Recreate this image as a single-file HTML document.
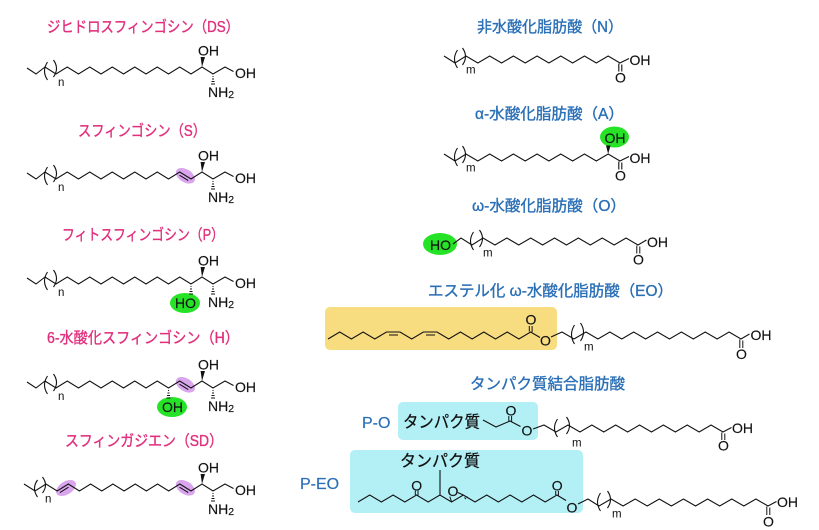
<!DOCTYPE html>
<html><head><meta charset="utf-8">
<style>
html,body{margin:0;padding:0;background:#fff;}
svg{display:block;}
.t{font-family:"Liberation Sans","Noto Sans CJK JP",sans-serif;font-size:15.5px;stroke-width:0.35px;}
.pk{fill:#e0307d;stroke:#e0307d;}
.bl{fill:#2a6fb6;stroke:#2a6fb6;}
.a{font-family:"Liberation Sans",sans-serif;font-size:14px;fill:#111;stroke:#111;stroke-width:0.15px;}
.s{font-family:"Liberation Sans",sans-serif;font-size:11.5px;fill:#111;}
.lb{font-family:"Liberation Sans",sans-serif;font-size:16px;fill:#2a6fb6;stroke:#2a6fb6;stroke-width:0.2px;}
.jp{font-family:"Liberation Sans","Noto Sans CJK JP",sans-serif;font-size:16.5px;fill:#111;stroke:#111;stroke-width:0.25px;}
</style></head><body>
<svg width="819" height="530" viewBox="0 0 819 530" xmlns="http://www.w3.org/2000/svg">
<defs>
  <path id="sch" fill="none" stroke="#111" stroke-width="1.1" d="M27 68L36 74L45 67L56 74l11.25-7 11.25 7 11.25-7 11.25 7 11.25-7 11.25 7 11.25-7 11.25 7 11.25-7 11.25 7 11.25-7 11.25 7L202 67L213 74L225 67L233.5 71.5"/>
  <g id="br">
    <path fill="none" stroke="#111" stroke-width="1.1" d="M47.5 62Q41.5 71 47.5 80M53.5 60Q59.5 68.5 53.5 77"/>
    <text class="s" x="58" y="86">n</text>
  </g>
  <g id="hd">
    <polygon points="202,67 200.6,57 205,57" fill="#111"/>
    <path fill="none" stroke="#111" stroke-width="1" d="M212.5 76.5h1M212 79h2M211.5 81.5h3M211 84h4"/>
    <text class="a" x="198" y="55.5">OH</text>
    <text class="a" x="235" y="78">OH</text>
    <text class="a" x="208" y="97">NH<tspan font-size="10.5" dy="1">2</tspan></text>
  </g>
  <g id="fa">
    <path fill="none" stroke="#111" stroke-width="1.1" d="M444 56L455 63L466 56l11.846 7 11.846-7 11.846 7 11.846-7 11.846 7 11.846-7 11.846 7 11.846-7 11.846 7 11.846-7 11.846 7 11.846-7 11.846 7L629 58.5"/>
    <path fill="none" stroke="#111" stroke-width="1.1" d="M457.5 50Q451.5 59 457.5 68M462.5 48Q468.5 56.5 462.5 65M618.8 63.5V71.5M621.8 64.5V71.5"/>
    <text class="s" x="466" y="73.5">m</text>
    <text class="a" x="615" y="82.5">O</text>
    <text class="a" x="629.5" y="65">OH</text>
  </g>
</defs>

<!-- Left column titles -->
<text class="t pk" x="47" y="32" textLength="192" lengthAdjust="spacingAndGlyphs">ジヒドロスフィンゴシン（DS）</text>
<text class="t pk" x="78" y="136" textLength="128" lengthAdjust="spacingAndGlyphs">スフィンゴシン（S）</text>
<text class="t pk" x="62" y="240" textLength="162" lengthAdjust="spacingAndGlyphs">フィトスフィンゴシン（P）</text>
<text class="t pk" x="47" y="343" textLength="192" lengthAdjust="spacingAndGlyphs">6-水酸化スフィンゴシン（H）</text>
<text class="t pk" x="65" y="446" textLength="158" lengthAdjust="spacingAndGlyphs">スフィンガジエン（SD）</text>

<!-- DS -->
<use href="#sch"/><use href="#br"/><use href="#hd"/>

<!-- S -->
<g transform="translate(0,105)">
  <ellipse cx="185.4" cy="70.8" rx="10.5" ry="6.5" fill="#d9a6ee" transform="rotate(32 185.4 70.8)"/>
  <use href="#sch"/><use href="#br"/><use href="#hd"/>
  <path fill="none" stroke="#111" stroke-width="1" d="M179.5 70.2L188.25 75.6"/>
</g>

<!-- P -->
<g transform="translate(0,210)">
  <ellipse cx="185" cy="93" rx="15" ry="10" fill="#27e327"/>
  <use href="#sch"/><use href="#br"/><use href="#hd"/>
  <path fill="none" stroke="#111" stroke-width="1" d="M190.5 76.5h1M190 79h2M189.5 81.5h3M189 84h4"/>
  <text class="a" x="175" y="98">HO</text>
</g>

<!-- H -->
<g transform="translate(0,314)">
  <ellipse cx="172" cy="93" rx="15" ry="10" fill="#27e327"/>
  <ellipse cx="185.4" cy="70.8" rx="10.5" ry="6.5" fill="#d9a6ee" transform="rotate(32 185.4 70.8)"/>
  <use href="#sch"/><use href="#br"/><use href="#hd"/>
  <path fill="none" stroke="#111" stroke-width="1" d="M179.5 70.2L188.25 75.6M168 76.5h1M167.5 79h2M167 81.5h3M166.5 84h4"/>
  <text class="a" x="162" y="98">OH</text>
</g>

<!-- SD -->
<g transform="translate(0,417)">
  <ellipse cx="66" cy="71" rx="11" ry="6.5" fill="#d9a6ee" transform="rotate(-32 66 71)"/>
  <ellipse cx="185.4" cy="70.8" rx="10.5" ry="6.5" fill="#d9a6ee" transform="rotate(32 185.4 70.8)"/>
  <path fill="none" stroke="#111" stroke-width="1.1" d="M24 67L35 74L46 67l11.154 7 11.154-7 11.154 7 11.154-7 11.154 7 11.154-7 11.154 7 11.154-7 11.154 7 11.154-7 11.154 7 11.154-7 11.154 7L202 67L213 74L225 67L233.5 71.5"/>
  <path fill="none" stroke="#111" stroke-width="1.1" d="M37.5 63Q31.5 71.5 37.5 80M42.5 60Q48.5 68 42.5 76"/>
  <path fill="none" stroke="#111" stroke-width="1" d="M59.9 75.6L68.5 70.2M179.5 70.2L188.25 75.6"/>
  <text class="s" x="45" y="85.5">n</text>
  <use href="#hd"/>
</g>

<!-- Right column titles -->
<text class="t bl" x="477" y="32" textLength="146" lengthAdjust="spacingAndGlyphs">非水酸化脂肪酸（N）</text>
<text class="t bl" x="475" y="119" textLength="149" lengthAdjust="spacingAndGlyphs">α-水酸化脂肪酸（A）</text>
<text class="t bl" x="472" y="211" textLength="154" lengthAdjust="spacingAndGlyphs">ω-水酸化脂肪酸（O）</text>
<text class="t bl" x="428" y="296" textLength="245" lengthAdjust="spacingAndGlyphs">エステル化 ω-水酸化脂肪酸（EO）</text>
<text class="t bl" x="470" y="389" textLength="155" lengthAdjust="spacingAndGlyphs">タンパク質結合脂肪酸</text>

<!-- N -->
<use href="#fa"/>

<!-- A -->
<g transform="translate(0,98)">
  <ellipse cx="614.5" cy="39" rx="14.5" ry="10.5" fill="#27e327"/>
  <use href="#fa"/>
  <polygon points="608.15,56 606,47.5 610.5,47.5" fill="#111"/>
  <text class="a" x="604.5" y="45">OH</text>
</g>

<!-- O (omega) -->
<ellipse cx="440" cy="244" rx="17" ry="11" fill="#27e327"/>
<text class="a" x="430" y="250">HO</text>
<path fill="none" stroke="#111" stroke-width="1.1" d="M453 244L461 238L472 245L483 238l11.923 7 11.923-7 11.923 7 11.923-7 11.923 7 11.923-7 11.923 7 11.923-7 11.923 7 11.923-7 11.923 7 11.923-7 11.923 7L646.5 240"/>
<path fill="none" stroke="#111" stroke-width="1.1" d="M473.5 232Q467.5 241 473.5 250M479.5 230Q485.5 238.5 479.5 247"/>
<path fill="none" stroke="#111" stroke-width="1" d="M636.8 245.5V253.5M639.8 246.5V253.5"/>
<text class="s" x="483" y="256.5">m</text>
<text class="a" x="633" y="264.5">O</text>
<text class="a" x="647" y="247">OH</text>

<!-- EO -->
<rect x="325" y="307" width="232" height="43" rx="5" fill="#f8dc80"/>
<path fill="none" stroke="#111" stroke-width="1.1" d="M328 339L339.7 332L351.4 339L363.1 332L374.8 339L386.5 332L400 332L411.7 339L423.4 332L437 332L448.7 339L460.4 332L472.1 339L483.8 332L495.5 339L507.2 332L518.9 339L530.6 332L540 337.5"/>
<path fill="none" stroke="#111" stroke-width="1" d="M389 335H398M426 335H435M529.3 331.5V326M532.1 332V326"/>
<text class="a" x="525.5" y="324.5">O</text>
<text class="a" x="540" y="345.5">O</text>
<path fill="none" stroke="#111" stroke-width="1.1" d="M551 337L562 332L574 339L586 332l11.923 7 11.923-7 11.923 7 11.923-7 11.923 7 11.923-7 11.923 7 11.923-7 11.923 7 11.923-7 11.923 7 11.923-7 11.923 7L749.5 334"/>
<path fill="none" stroke="#111" stroke-width="1.1" d="M574.5 325Q568.5 334.5 574.5 344M580.5 323Q586.5 332 580.5 341"/>
<path fill="none" stroke="#111" stroke-width="1" d="M739.8 339.5V348M742.8 340.5V348"/>
<text class="s" x="584" y="350.5">m</text>
<text class="a" x="736" y="359">O</text>
<text class="a" x="750.5" y="340">OH</text>

<!-- P-O -->
<text class="lb" x="362" y="428">P-O</text>
<rect x="398" y="402" width="140" height="38" rx="5" fill="#b3f0f6"/>
<text class="jp" x="403" y="427.5" textLength="77" lengthAdjust="spacingAndGlyphs">タンパク質</text>
<path fill="none" stroke="#111" stroke-width="1.1" d="M483 420L496 427L510 421L520.5 426.5"/>
<path fill="none" stroke="#111" stroke-width="1" d="M508.8 421V416M511.6 421.5V416"/>
<text class="a" x="505.5" y="415.5">O</text>
<text class="a" x="521.5" y="435.5">O</text>
<path fill="none" stroke="#111" stroke-width="1.1" d="M533 429L544 425L556 432L568 425l11.923 7 11.923-7 11.923 7 11.923-7 11.923 7 11.923-7 11.923 7 11.923-7 11.923 7 11.923-7 11.923 7 11.923-7 11.923 7L731.5 427.5"/>
<path fill="none" stroke="#111" stroke-width="1.1" d="M557.5 419Q551.5 428 557.5 437M566.5 417Q572.5 425.5 566.5 434"/>
<path fill="none" stroke="#111" stroke-width="1" d="M721.8 432.5V440M724.8 433.5V440"/>
<text class="s" x="572" y="446.5">m</text>
<text class="a" x="718" y="450.5">O</text>
<text class="a" x="732" y="433">OH</text>

<!-- P-EO -->
<text class="lb" x="300" y="489">P-EO</text>
<rect x="350" y="450" width="233" height="63" rx="5" fill="#b3f0f6"/>
<text class="jp" x="400" y="466.5" textLength="80" lengthAdjust="spacingAndGlyphs">タンパク質</text>
<path fill="none" stroke="#111" stroke-width="1.1" d="M440 470V495M358 502L369.7 495L381.4 502L393.1 495L404.8 502L416.5 495L428.2 502L439.9 495L451.6 502L463.3 495L475 502L486.7 495L498.4 502L510.1 495L521.8 502L533.5 495L545.2 502L556.9 495L566 500.5"/>
<path fill="none" stroke="#111" stroke-width="1" d="M415.3 495V490.5M418 495.5V490.5M555.7 495V491M558.4 495.5V491M451.6 502L449.8 496.5M463.3 495L457.8 492.5M464.5 497.5l1.5 1.5M466.5 496.5l1.5 1.5"/>
<text class="a" x="411.3" y="490.5">O</text>
<text class="a" x="447.5" y="496">O</text>
<text class="a" x="551.7" y="490.5">O</text>
<text class="a" x="566.5" y="512.5">O</text>
<path fill="none" stroke="#111" stroke-width="1.1" d="M578 504L588 499L599 506L611 499l12.077 7 12.077-7 12.077 7 12.077-7 12.077 7 12.077-7 12.077 7 12.077-7 12.077 7 12.077-7 12.077 7 12.077-7 12.077 7L776.5 501.5"/>
<path fill="none" stroke="#111" stroke-width="1.1" d="M600.5 493Q594.5 502 600.5 511M607.5 491Q613.5 499.5 607.5 508"/>
<path fill="none" stroke="#111" stroke-width="1" d="M766.8 506.5V515M769.8 507.5V515"/>
<text class="s" x="612" y="517.5">m</text>
<text class="a" x="763" y="526.5">O</text>
<text class="a" x="777" y="507">OH</text>
</svg>
</body></html>
